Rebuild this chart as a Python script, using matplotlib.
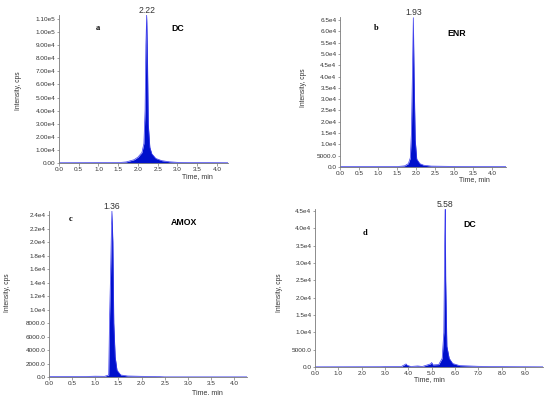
import matplotlib
matplotlib.use("Agg")
import matplotlib.pyplot as plt
import numpy as np

plt.rcParams['font.family'] = ['Liberation Sans', 'DejaVu Sans']

# chromatogram a: DC, peak at 2.22 min
a_time = [0.0, 1.5, 1.7, 1.9, 2.0, 2.1, 2.15, 2.18, 2.2, 2.22, 2.24, 2.26, 2.3, 2.35, 2.45, 2.6, 2.8, 3.0, 3.5, 4.28]
a_int = [200, 300, 800, 2500, 4500, 8000, 15000, 40000, 90000, 113000, 80000, 30000, 12000, 7000, 3500, 1800, 900, 500, 300, 200]

# chromatogram b: ENR, peak at 1.93 min
b_time = [0.0, 1.5, 1.7, 1.8, 1.85, 1.88, 1.91, 1.93, 1.95, 1.98, 2.02, 2.1, 2.2, 2.4, 3.0, 4.37]
b_int = [150, 200, 500, 1500, 4000, 15000, 45000, 66000, 40000, 12000, 3500, 1500, 800, 400, 250, 150]

# chromatogram c: AMOX, peak at 1.36 min
c_time = [0.0, 0.8, 1.0, 1.2, 1.29, 1.31, 1.33, 1.35, 1.36, 1.38, 1.40, 1.43, 1.47, 1.55, 1.7, 2.0, 2.3, 2.5, 4.28]
c_int = [50, 80, 120, 100, 300, 9000, 15000, 22000, 24600, 20000, 8000, 3000, 1000, 300, 150, 100, 80, 20, 20]

# chromatogram d: DC, peak at 5.58 min
d_time = [0.0, 2.8, 3.0, 3.7, 3.85, 3.9, 3.95, 4.1, 4.4, 4.6, 4.95, 5.0, 5.05, 5.3, 5.45,
          5.52, 5.56, 5.58, 5.6, 5.65, 5.75, 5.9, 6.2, 7.0, 8.0, 9.77]
d_int = [50, 80, 100, 150, 700, 900, 500, 150, 300, 150, 900, 1300, 600, 700, 2500,
         10000, 38000, 45500, 25000, 6000, 2500, 1000, 400, 200, 100, 50]

panel_letters = ['a', 'b', 'c', 'd']
compounds = ['DC', 'ENR', 'AMOX', 'DC']
peak_times = ['2.22', '1.93', '1.36', '5.58']

a_yticks = [i * 1e4 for i in range(12)]
a_ylabels = ['0.00'] + ['%.2fe4' % i for i in range(1, 10)] + ['1.00e5', '1.10e5']
b_yticks = [i * 5000 for i in range(14)]
b_ylabels = ['0.0', '5000.0'] + ['%.1fe4' % (i / 2) for i in range(2, 14)]
c_yticks = [i * 2000 for i in range(13)]
c_ylabels = ['0.0', '2000.0', '4000.0', '6000.0', '8000.0'] + ['%.1fe4' % (i / 5) for i in range(5, 13)]
d_yticks = [i * 5000 for i in range(10)]
d_ylabels = ['0.0', '5000.0'] + ['%.1fe4' % (i / 2) for i in range(2, 10)]

fig = plt.figure(figsize=(5.5, 3.95), dpi=100)

W, H = 550.0, 395.0
def box(x0, x1, y_bot, y_top):
    return [x0 / W, 1 - y_bot / H, (x1 - x0) / W, (y_bot - y_top) / H]

panels = [
    dict(t=a_time, y=a_int, rect=box(59, 228, 163, 15), xlim=4.28, ylim=1.13e5,
         xt=np.arange(0, 4.01, 0.5), yt=a_yticks, yl=a_ylabels,
         xlab=(0.82, -0.065), ylab=(-0.22, 0.49),
         letter=(0.23, 0.91), comp=(0.70, 0.91)),
    dict(t=b_time, y=b_int, rect=box(340, 506, 167, 17), xlim=4.37, ylim=6.63e4,
         xt=np.arange(0, 4.01, 0.5), yt=b_yticks, yl=b_ylabels,
         xlab=(0.81, -0.06), ylab=(-0.20, 0.53),
         letter=(0.22, 0.93), comp=(0.70, 0.89)),
    dict(t=c_time, y=c_int, rect=box(49, 247, 377, 211), xlim=4.28, ylim=2.46e4,
         xt=np.arange(0, 4.01, 0.5), yt=c_yticks, yl=c_ylabels,
         xlab=(0.80, -0.07), ylab=(-0.19, 0.51),
         letter=(0.11, 0.95), comp=(0.68, 0.93)),
    dict(t=d_time, y=d_int, rect=box(315, 543, 367, 209), xlim=9.77, ylim=4.56e4,
         xt=np.arange(0, 9.01, 1.0), yt=d_yticks, yl=d_ylabels,
         xlab=(0.50, -0.06), ylab=(-0.14, 0.47),
         letter=(0.22, 0.85), comp=(0.68, 0.90)),
]

for i, p in enumerate(panels):
    ax = fig.add_axes(p['rect'])
    ax.fill_between(p['t'], 0, p['y'], color='#0010cc', linewidth=0)
    ax.plot(p['t'], p['y'], color='#3a3aee', linewidth=0.5)
    ax.set_xlim(0, p['xlim'])
    ax.set_ylim(0, p['ylim'])
    ax.set_xticks(p['xt'])
    ax.set_xticklabels(['%.1f' % v for v in p['xt']])
    ax.set_yticks(p['yt'])
    ax.set_yticklabels(p['yl'])
    for s in ['top', 'right']:
        ax.spines[s].set_visible(False)
    for s in ['left', 'bottom']:
        ax.spines[s].set_color('#7a7a7a')
        ax.spines[s].set_linewidth(0.6)
    ax.tick_params(labelsize=4.6, length=1.8, width=0.5, pad=0.8,
                   colors='#7a7a7a', labelcolor='#333333')
    ax.set_xlabel('Time, min', fontsize=5, color='#333333')
    ax.xaxis.set_label_coords(*p['xlab'])
    ax.set_ylabel('Intensity, cps', fontsize=4.8, color='#333333')
    ax.yaxis.set_label_coords(*p['ylab'])
    # peak apex label
    ipk = int(np.argmax(p['y']))
    ax.text(p['t'][ipk], p['ylim'], peak_times[i], ha='center', va='bottom',
            fontsize=6.2, color='#333333')
    ax.text(p['letter'][0], p['letter'][1], panel_letters[i], transform=ax.transAxes,
            fontsize=6, fontweight='bold', family='Liberation Serif', ha='center', va='center')
    ax.text(p['comp'][0], p['comp'][1], compounds[i], transform=ax.transAxes,
            fontsize=6.3, fontweight='bold', ha='center', va='center')

fig.savefig('out.png', dpi=100)
